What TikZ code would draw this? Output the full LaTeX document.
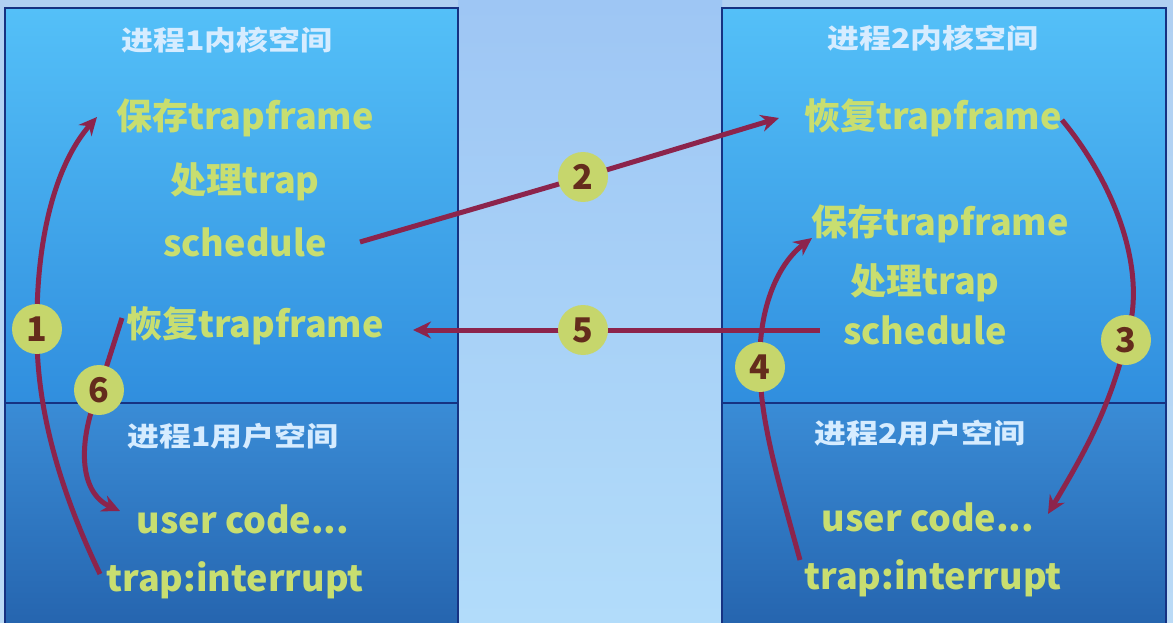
\documentclass[tikz,border=0pt]{standalone}
\usepackage{fontspec}
\newfontfamily\cjk{Noto Sans CJK SC}
\usetikzlibrary{arrows.meta}
\definecolor{bgtop}{RGB}{176,208,242}
\definecolor{bgbot}{RGB}{186,218,246}
\definecolor{midtop}{RGB}{158,198,244}
\definecolor{midbot}{RGB}{178,220,250}
\definecolor{ktop}{RGB}{84,192,248}
\definecolor{kbot}{RGB}{48,142,222}
\definecolor{utop}{RGB}{58,140,214}
\definecolor{ubot}{RGB}{36,98,172}
\definecolor{boxc}{RGB}{22,50,130}
\definecolor{tcol}{RGB}{200,222,112}
\definecolor{ttl}{RGB}{214,236,255}
\definecolor{ccol}{RGB}{198,214,108}
\definecolor{ncol}{RGB}{100,44,28}
\definecolor{acol}{RGB}{140,36,76}
\begin{document}
\begin{tikzpicture}[x=1pt,y=-1pt,
  txt/.style={font=\cjk\bfseries\fontsize{36}{40}\selectfont, text=tcol, inner sep=0pt},
  ttlnode/.style={font=\cjk\bfseries\fontsize{27}{30}\selectfont, text=ttl, inner sep=0pt, xscale=1.18},
  num/.style={circle, fill=ccol, minimum size=50pt, inner sep=0pt, font=\cjk\bfseries\fontsize{34}{34}\selectfont, text=ncol},
  arr/.style={draw=acol, line width=5pt, -{Stealth[length=18pt,width=17pt]}},
  boxline/.style={draw=boxc, line width=2pt}]
\useasboundingbox (0,0) rectangle (1173,623);
\clip (0,0) rectangle (1173,623);
% backgrounds
\shade[top color=bgtop, bottom color=bgbot] (0,0) rectangle (1173,623);
\shade[top color=midtop, bottom color=midbot] (458,0) rectangle (722,623);
\shade[top color=ktop, bottom color=kbot] (5,8) rectangle (458,403);
\shade[top color=utop, bottom color=ubot] (5,403) rectangle (458,640);
\shade[top color=ktop, bottom color=kbot] (722,8) rectangle (1166,403);
\shade[top color=utop, bottom color=ubot] (722,403) rectangle (1166,640);
\draw[boxline] (5,8) rectangle (458,640);
\draw[boxline] (5,403) -- (458,403);
\draw[boxline] (722,8) rectangle (1166,640);
\draw[boxline] (722,403) -- (1166,403);
% left texts
\node[ttlnode] (Lk) at (227,40) {进程1内核空间};
\node[txt] (Lsave) at (245,118) {保存trapframe};
\node[txt] (Lproc) at (245,182) {处理trap};
\node[txt] (Lsch) at (245,242) {schedule};
\node[txt] (Lres) at (255,326) {恢复trapframe};
\node[ttlnode] (Lu) at (233,436) {进程1用户空间};
\node[txt] (Lcode) at (243,519) {user code...};
\node[txt] (Lint) at (235,580) {trap:interrupt};
% right texts
\node[ttlnode] (Rk) at (933,38) {进程2内核空间};
\node[txt] (Rres) at (933,118) {恢复trapframe};
\node[txt] (Rsave) at (940,224) {保存trapframe};
\node[txt] (Rproc) at (925,283) {处理trap};
\node[txt] (Rsch) at (925,330) {schedule};
\node[ttlnode] (Ru) at (920,433) {进程2用户空间};
\node[txt] (Rcode) at (928,517) {user code...};
\node[txt] (Rint) at (933,578) {trap:interrupt};
% circle positions
\coordinate (p1) at (37,329);
\coordinate (p2) at (583,177);
\coordinate (p3) at (1126,340);
\coordinate (p4) at (760,367);
\coordinate (p5) at (583,330);
\coordinate (p6) at (99,390);
% arrow ends
\coordinate (a1s) at (100,574);
\coordinate (a1e) at (97,117);
\coordinate (a2s) at (360,242);
\coordinate (a2e) at (779,118);
\coordinate (a3s) at (1062,120);
\coordinate (a3e) at (1048,514);
\coordinate (a4s) at (800,560);
\coordinate (a4e) at (812,238);
\coordinate (a5s) at (820,330);
\coordinate (a5e) at (413,330);
\coordinate (a6s) at (122,318);
\coordinate (a6e) at (120,511);
% arrows
\draw[arr] (a1s) .. controls (55,480) and (36,400) .. (p1) .. controls (36,240) and (55,165) .. (a1e);
\draw[arr] (a2s) -- (p2) -- (a2e);
\draw[arr] (a3s) .. controls (1112,180) and (1150,270) .. (p3) .. controls (1110,410) and (1080,460) .. (a3e);
\draw[arr] (a4s) .. controls (778,480) and (760,420) .. (p4) .. controls (758,305) and (780,262) .. (a4e);
\draw[arr] (a5s) -- (p5) -- (a5e);
\draw[arr] (a6s) -- (p6) .. controls (78,440) and (78,492) .. (a6e);
% number circles
\node[num] (n1) at (p1) {1};
\node[num] (n2) at (p2) {2};
\node[num] (n3) at (p3) {3};
\node[num] (n4) at (p4) {4};
\node[num] (n5) at (p5) {5};
\node[num] (n6) at (p6) {6};
\end{tikzpicture}
\end{document}
